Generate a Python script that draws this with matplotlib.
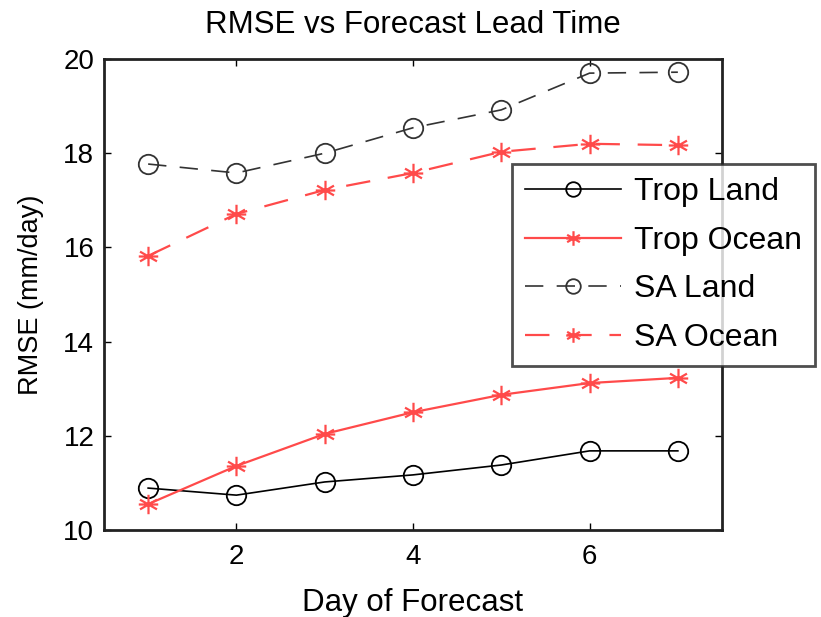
import matplotlib
matplotlib.use("Agg")
import matplotlib.pyplot as plt
from matplotlib.path import Path

plt.rcParams['font.family'] = ['Liberation Sans', 'DejaVu Sans']

days = [1, 2, 3, 4, 5, 6, 7]
trop_land = [10.89, 10.74, 11.02, 11.17, 11.38, 11.68, 11.68]
trop_ocean = [10.55, 11.36, 12.04, 12.50, 12.87, 13.12, 13.23]
sa_land = [17.77, 17.58, 18.00, 18.54, 18.92, 19.70, 19.72]
sa_ocean = [15.82, 16.71, 17.22, 17.58, 18.03, 18.20, 18.17]
labels = ["Trop Land", "Trop Ocean", "SA Land", "SA Ocean"]
xticks = [2, 4, 6]
yticks = [10, 12, 14, 16, 18, 20]

red = '#ff4a4a'
# asterisk marker: three crossing strokes
star = Path([(0, 1), (0, -1), (0.87, 0.5), (-0.87, -0.5), (0.87, -0.5), (-0.87, 0.5), (1, 0), (-1, 0)],
            [Path.MOVETO, Path.LINETO] * 4)

fig = plt.figure(figsize=(8.21, 6.17), dpi=100)
ax = fig.add_axes([104 / 821, 1 - 530 / 617, (722 - 104) / 821, (530 - 59) / 617])

dash = (0, (11, 8))
ax.plot(days, trop_land, color='black', lw=1.2, marker='o', ms=14, mfc='none', mew=1.3, label=labels[0])
ax.plot(days, trop_ocean, color=red, lw=1.6, marker=star, ms=14, mew=1.6, label=labels[1])
ax.plot(days, sa_land, color='#333333', lw=1.2, ls=dash, marker='o', ms=14, mfc='none', mew=1.3, label=labels[2])
ax.plot(days, sa_ocean, color=red, lw=1.6, ls=dash, marker=star, ms=14, mew=1.6, label=labels[3])

ax.set_xlim(0.5, 7.5)
ax.set_ylim(10, 20)
ax.set_xticks(xticks)
ax.set_yticks(yticks)
ax.tick_params(direction='in', length=5, width=1, top=True, right=True, labelsize=20)
ax.tick_params(axis='x', pad=10)
ax.tick_params(axis='y', pad=7)
for s in ax.spines.values():
    s.set_linewidth(2)
    s.set_color('#222222')

ax.set_title("RMSE vs Forecast Lead Time", fontsize=22.5, pad=19)
ax.set_xlabel("Day of Forecast", fontsize=22.5, labelpad=13)
ax.set_ylabel("RMSE (mm/day)", fontsize=19.5, labelpad=14)

leg = ax.legend(loc='upper left', bbox_to_anchor=(512 / 821, 1 - 164 / 617), bbox_transform=fig.transFigure,
                fontsize=23, frameon=True, fancybox=False, shadow=False, borderpad=0.42,
                handlelength=3.0, handletextpad=0.4, labelspacing=0.58, borderaxespad=0,
                markerscale=0.75)
leg.get_frame().set_edgecolor('#222222')
leg.get_frame().set_linewidth(2)

fig.savefig("out.png", dpi=100)
